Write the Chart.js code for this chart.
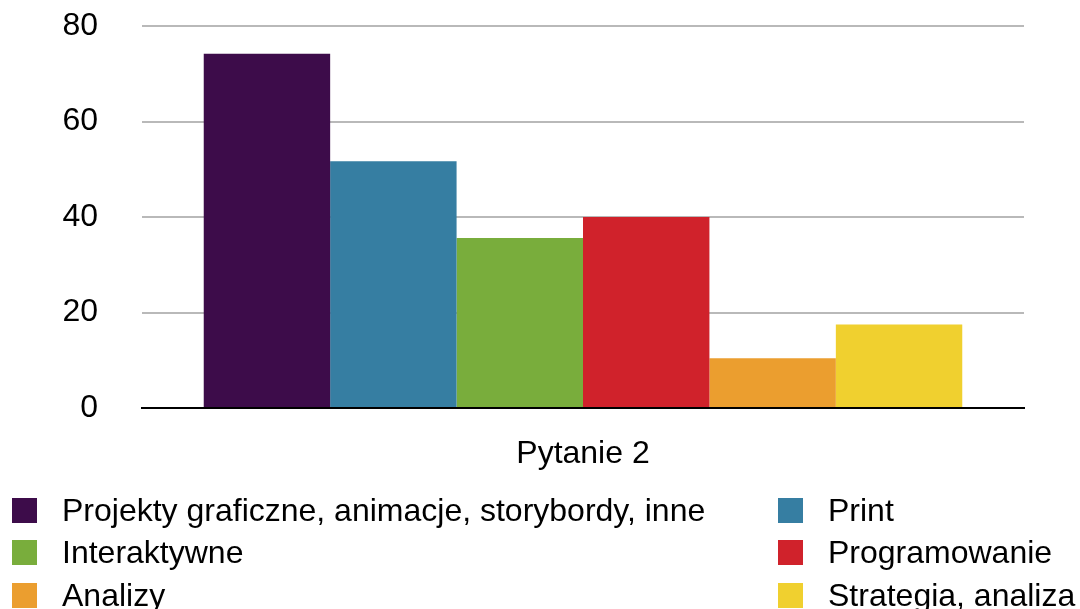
<!DOCTYPE html>
<html lang="pl">
<head>
<meta charset="utf-8">
<title>Pytanie 2</title>
<script src="https://cdn.jsdelivr.net/npm/chart.js@4/dist/chart.umd.min.js"></script>
<style>
    html, body {
        margin: 0;
        padding: 0;
        background: #ffffff;
    }
    .wrap {
        position: relative;
        width: 1080px;
        height: 609px;
        overflow: hidden;
    }
    #chart {
        position: absolute;
        left: 0;
        top: 0;
    }
    .legend {
        position: absolute;
        left: 0;
        top: 0;
        width: 1080px;
        font-family: "Liberation Sans", Arial, Helvetica, sans-serif;
        font-size: 32px;
        color: #000;
    }
    .legend-item {
        position: absolute;
        display: flex;
        align-items: center;
        height: 40px;
        white-space: nowrap;
    }
    .legend-box {
        width: 25px;
        height: 25px;
        margin-right: 25px;
        flex: none;
    }
</style>
</head>
<body>
<div class="wrap">
    <canvas id="chart" width="1080" height="609"></canvas>
    <div class="legend" id="legend"></div>
</div>
<script>
// Data
const categories = ['Pytanie 2'];
const seriesNames = [
    'Projekty graficzne, animacje, storybordy, inne',
    'Print',
    'Interaktywne',
    'Programowanie',
    'Analizy',
    'Strategia, analiza'
];
const seriesValues = [74.2, 51.7, 35.6, 40, 10.4, 17.5];
const seriesColors = ['#3d0c4a', '#367ea2', '#79ad3c', '#d0222b', '#eb9e2f', '#f0d02f'];
const yTicks = [0, 20, 40, 60, 80];

const FONT = '"Liberation Sans", Arial, Helvetica, sans-serif';

const datasets = seriesNames.map((name, i) => ({
    label: name,
    data: [seriesValues[i]],
    backgroundColor: seriesColors[i],
    borderWidth: 0,
    barPercentage: 1.0,
    categoryPercentage: 0.86
}));

new Chart(document.getElementById('chart'), {
    type: 'bar',
    data: {
        labels: categories,
        datasets: datasets
    },
    options: {
        responsive: false,
        animation: false,
        events: [],
        layout: {
            padding: { top: 26, right: 56, bottom: 0, left: 0 }
        },
        plugins: {
            legend: { display: false },
            tooltip: { enabled: false }
        },
        scales: {
            x: {
                grid: { display: false, drawTicks: false },
                border: { display: true, color: '#000000', width: 2 },
                ticks: {
                    color: '#000000',
                    font: { family: FONT, size: 32 },
                    padding: 27
                },
                afterFit: scale => { scale.height = 201; }
            },
            y: {
                min: yTicks[0],
                max: yTicks[yTicks.length - 1],
                afterBuildTicks: scale => {
                    scale.ticks = yTicks.map(v => ({ value: v }));
                },
                grid: {
                    color: '#b9b9b9',
                    lineWidth: 2,
                    drawTicks: false
                },
                border: { display: false },
                ticks: {
                    color: '#000000',
                    font: { family: FONT, size: 32 },
                    padding: 44
                },
                afterFit: scale => {
                    // big label gap should not push the plot down
                    scale.width = 142;
                    scale.paddingTop = 0;
                    scale.paddingBottom = 0;
                }
            }
        }
    }
});

// Two-column legend below the plot
const legend = document.getElementById('legend');
const colX = [12, 778];
const rowY = [490, 532.5, 575];
seriesNames.forEach((name, i) => {
    const item = document.createElement('div');
    item.className = 'legend-item';
    item.style.left = colX[i % 2] + 'px';
    item.style.top = rowY[Math.floor(i / 2)] + 'px';
    const box = document.createElement('span');
    box.className = 'legend-box';
    box.style.backgroundColor = seriesColors[i];
    const text = document.createElement('span');
    text.textContent = name;
    item.appendChild(box);
    item.appendChild(text);
    legend.appendChild(item);
});
</script>
</body>
</html>
